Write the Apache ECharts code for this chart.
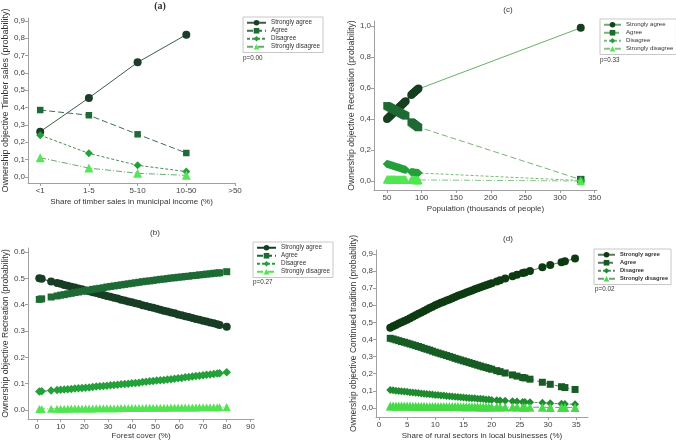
<!DOCTYPE html>
<html><head><meta charset="utf-8">
<script src="https://cdn.jsdelivr.net/npm/echarts@6/dist/echarts.min.js"></script>
<style>html,body{margin:0;padding:0;background:#fff}#c{width:676px;height:442px}</style>
</head><body><div id="c"></div>
<script>
const seriesNames = ['Strongly agree','Agree','Disagree','Strongly disagree'];

// ---- panel (a)
const catsA = ['<1','1-5','5-10','10-50','>50'];
const aSA = [0.26,0.455,0.66,0.82];
const aA  = [0.385,0.355,0.245,0.137];
const aD  = [0.24,0.135,0.066,0.03];
const aSD = [0.11,0.05,0.02,0.008];
const aYTicks = [0,0.1,0.2,0.3,0.4,0.5,0.6,0.7,0.8,0.9];

// ---- panel (b)
const bX = [1,2,6,8.5,10,11.5,13,14.5,16,17.5,19,20.5,22,23.5,25,26.5,28,29.5,31,32.5,34,35.5,37,38.5,40,41.5,43,44.5,46,47.5,49,50.5,52,53.5,55,56.5,58,59.5,61,62.5,64,65.5,67,68.5,70,71.5,73,74.5,76,77,80];
const bSA = [0.500,0.498,0.488,0.482,0.479,0.475,0.472,0.468,0.465,0.461,0.458,0.454,0.451,0.447,0.444,0.440,0.437,0.433,0.430,0.426,0.423,0.419,0.416,0.412,0.409,0.405,0.402,0.398,0.395,0.391,0.388,0.384,0.381,0.377,0.374,0.370,0.367,0.363,0.360,0.356,0.353,0.349,0.346,0.343,0.339,0.336,0.332,0.329,0.326,0.323,0.316];
const bA  = [0.420,0.422,0.429,0.433,0.436,0.438,0.441,0.443,0.446,0.448,0.451,0.453,0.455,0.458,0.460,0.462,0.464,0.467,0.469,0.471,0.473,0.475,0.477,0.479,0.481,0.483,0.485,0.487,0.489,0.490,0.492,0.494,0.496,0.497,0.499,0.501,0.502,0.504,0.505,0.507,0.508,0.510,0.511,0.513,0.514,0.516,0.517,0.519,0.520,0.521,0.525];
const bD  = [0.070,0.071,0.074,0.076,0.077,0.078,0.079,0.080,0.082,0.083,0.084,0.085,0.086,0.087,0.089,0.090,0.091,0.092,0.094,0.095,0.096,0.098,0.099,0.100,0.102,0.103,0.104,0.106,0.107,0.109,0.110,0.112,0.113,0.114,0.116,0.117,0.119,0.121,0.122,0.124,0.125,0.127,0.129,0.130,0.132,0.134,0.135,0.137,0.139,0.140,0.143];
const bSD = [0.004,0.004,0.005,0.005,0.005,0.005,0.005,0.006,0.006,0.006,0.006,0.006,0.006,0.006,0.007,0.007,0.007,0.007,0.007,0.007,0.007,0.008,0.008,0.008,0.008,0.008,0.008,0.008,0.009,0.009,0.009,0.009,0.009,0.009,0.009,0.010,0.010,0.010,0.010,0.010,0.010,0.010,0.010,0.011,0.011,0.011,0.011,0.011,0.011,0.011,0.012];
const bXTicks = [0,10,20,30,40,50,60,70,80,90];
const bYTicks = [0,0.1,0.2,0.3,0.4,0.5,0.6];

// ---- panel (c)
const cX = [50,51.5,53,54.5,56,57.5,59,60.5,62,63.5,65,66.5,68,69.5,71,72.5,74,75.5,77,85,86.5,88,89.5,91,92.5,94,95.5,330];
const cSA = [0.400,0.406,0.413,0.419,0.426,0.432,0.438,0.445,0.451,0.457,0.464,0.470,0.477,0.483,0.489,0.496,0.502,0.509,0.515,0.555,0.561,0.567,0.573,0.579,0.585,0.591,0.597,0.988];
const cA  = [0.485,0.481,0.478,0.474,0.471,0.467,0.463,0.460,0.456,0.452,0.449,0.445,0.442,0.438,0.434,0.431,0.427,0.424,0.420,0.380,0.375,0.370,0.365,0.360,0.355,0.350,0.345,0.009];
const cD  = [0.110,0.108,0.106,0.104,0.102,0.100,0.097,0.095,0.093,0.091,0.089,0.087,0.085,0.083,0.080,0.078,0.076,0.074,0.072,0.058,0.057,0.056,0.055,0.054,0.053,0.052,0.051,0.003];
const cSD = [0.012,0.012,0.012,0.011,0.011,0.011,0.011,0.011,0.010,0.010,0.010,0.010,0.010,0.010,0.009,0.009,0.009,0.009,0.009,0.008,0.008,0.008,0.008,0.007,0.007,0.007,0.007,0.000];
const cXTicks = [50,100,150,200,250,300,350];
const cYTicks = [0,0.2,0.4,0.6,0.8,1.0];

// ---- panel (d)
const dX = [2,2.5,3,3.5,4,4.5,5,5.5,6,6.5,7,7.5,8,8.5,9,9.5,10,10.5,11,11.5,12,12.5,13,13.5,14,14.5,15,15.5,16,16.5,17,17.5,18,18.5,19,19.5,20,20.9,21.5,22.4,23.7,24.5,25.5,25.9,26.8,29,30.4,32.4,33,34.8];
const dSA = [0.469,0.477,0.485,0.493,0.501,0.508,0.516,0.524,0.533,0.541,0.550,0.558,0.567,0.575,0.584,0.592,0.600,0.607,0.614,0.621,0.628,0.634,0.641,0.648,0.655,0.661,0.668,0.674,0.680,0.687,0.693,0.699,0.705,0.711,0.717,0.723,0.729,0.739,0.746,0.756,0.769,0.778,0.788,0.792,0.801,0.822,0.836,0.852,0.857,0.874];
const dA  = [0.407,0.403,0.398,0.393,0.388,0.384,0.379,0.374,0.369,0.364,0.359,0.354,0.348,0.343,0.338,0.332,0.326,0.321,0.316,0.311,0.306,0.301,0.296,0.290,0.285,0.280,0.275,0.270,0.265,0.260,0.255,0.250,0.245,0.240,0.236,0.231,0.226,0.218,0.212,0.204,0.193,0.186,0.178,0.175,0.168,0.150,0.138,0.124,0.119,0.108];
const dD  = [0.105,0.103,0.101,0.099,0.097,0.096,0.094,0.092,0.090,0.089,0.087,0.085,0.083,0.082,0.080,0.078,0.076,0.075,0.073,0.072,0.070,0.069,0.067,0.066,0.064,0.063,0.061,0.060,0.058,0.057,0.056,0.054,0.053,0.052,0.050,0.049,0.047,0.045,0.044,0.042,0.039,0.037,0.035,0.035,0.033,0.030,0.027,0.024,0.023,0.021];
const dSD = [0.012,0.012,0.012,0.011,0.011,0.011,0.011,0.011,0.010,0.010,0.010,0.010,0.010,0.009,0.009,0.009,0.009,0.009,0.009,0.008,0.008,0.008,0.008,0.008,0.008,0.007,0.007,0.007,0.007,0.007,0.007,0.007,0.006,0.006,0.006,0.006,0.006,0.006,0.005,0.005,0.005,0.005,0.004,0.004,0.004,0.004,0.003,0.003,0.003,0.003];
const dXTicks = [0,5,10,15,20,25,30,35];
const dYTicks = [0,0.1,0.2,0.3,0.4,0.5,0.6,0.7,0.8,0.9];

const pValues = ['p=0.00','p=0.27','p=0.33','p=0.02'];
const panelTitles = ['(a)','(b)','(c)','(d)'];

const FONT = 'Liberation Sans, Arial, sans-serif';
const comma = v => v.toFixed(1).replace('.', ',');
const dot = v => v.toFixed(1);

function pts(xs, ys) { return ys.map((v, i) => [xs[i], v]); }
const symbols = ['circle','rect','diamond','triangle'];
const dashes = ['solid',[6,3],[3,2],[6,2,1,2]];

function mkSeries(p, idx, xs, ys, color, lineColor, size) {
  return {
    type: 'line', name: seriesNames[idx] + ' #' + p,
    xAxisIndex: p, yAxisIndex: p,
    data: pts(xs, ys),
    symbol: symbols[idx], symbolSize: size,
    itemStyle: {color: color, borderWidth: 0},
    lineStyle: {color: lineColor, width: 1, type: dashes[idx]},
    emphasis: {disabled: true}, animation: false, z: 2 + idx
  };
}

const colA = ['#1b3d29','#1f6b37','#22a03a','#58e458'];
const lineA = ['#3d5c4a','#3f6e52','#4a8a5a','#6aaa72'];
const colB = ['#173d25','#1e6a35','#23a03a','#52e452'];
const colC = ['#173f1f','#1e6a34','#24a03a','#52e652'];
const lineC = ['#6aae6a','#74b474','#7aba7a','#86c486'];
const colD = ['#0e3a12','#175c24','#1e8c2e','#46da46'];
const lineD = ['#5a7a60','#5a7a60','#6a8a70','#7a9a80'];

const sizesA = [8,6.5,8,9];
const sizesB = [8,7,8.5,8];
const sizesC = [8,7.5,8.5,8.5];
const sizesD = [8,7,8,9];

const series = [];
[aSA,aA,aD,aSD].forEach((ys,i)=>series.push(mkSeries(0,i,catsA.slice(0,ys.length).map((c,k)=>k),ys,colA[i],lineA[i],sizesA[i])));
[bSA,bA,bD,bSD].forEach((ys,i)=>series.push(mkSeries(1,i,bX,ys,colB[i],colB[i],sizesB[i])));
[cSA,cA,cD,cSD].forEach((ys,i)=>series.push(mkSeries(2,i,cX,ys,colC[i],lineC[i],sizesC[i])));
[dSA,dA,dD,dSD].forEach((ys,i)=>series.push(mkSeries(3,i,dX,ys,colD[i],lineD[i],sizesD[i])));

const axisCommon = {
  axisLine: {show: true, onZero: false, lineStyle: {color: '#a0a0a0', width: 1}},
  axisTick: {show: true, length: 3, lineStyle: {color: '#a0a0a0'}},
  splitLine: {show: false},
  nameLocation: 'middle'
};
function xAx(p, min, max, ticks, fmt, name, gap) {
  return Object.assign({}, axisCommon, {
    gridIndex: p, type: 'value', min: min, max: max, name: name, nameGap: gap,
    nameTextStyle: {fontFamily: FONT, fontSize: 8, color: '#333'},
    axisTick: Object.assign({}, axisCommon.axisTick, {customValues: ticks}),
    axisLabel: {customValues: ticks, formatter: fmt, fontFamily: FONT, fontSize: 8, color: '#444', margin: 4}
  });
}
function yAx(p, min, max, ticks, fmt, name, gap, nfs) {
  return Object.assign({}, axisCommon, {
    gridIndex: p, type: 'value', min: min, max: max, name: name, nameGap: gap,
    nameTextStyle: {fontFamily: FONT, fontSize: nfs, color: '#333'},
    axisTick: Object.assign({}, axisCommon.axisTick, {customValues: ticks}),
    axisLabel: {customValues: ticks, formatter: fmt, fontFamily: FONT, fontSize: 8, color: '#444', margin: 3}
  });
}

const aXTicks = catsA.map((c,k)=>k);
const xAxis = [
  xAx(0, -0.25, 4, aXTicks, v => catsA[Math.round(v)], 'Share of timber sales in municipal income (%)', 15),
  xAx(1, -3.75, 91.5, bXTicks, v => String(v), 'Forest cover (%)', 13),
  xAx(2, 31.2, 353.5, cXTicks, v => String(v), 'Population (thousands of people)', 15),
  xAx(3, -0.53, 37.1, dXTicks, v => String(v), 'Share of rural sectors in local businesses (%)', 15)
];
const yAxis = [
  yAx(0, -0.036, 0.916, aYTicks, comma, 'Ownership objective Timber sales (probability)', 17, 9),
  yAx(1, -0.034, 0.615, bYTicks, dot, 'Ownership objective Recreation (probability)', 17, 8.6),
  yAx(2, -0.058, 1.032, cYTicks, comma, 'Ownership objective Recreation (probability)', 17, 8.7),
  yAx(3, -0.053, 0.923, dYTicks, comma, 'Ownership objective Continued tradition (probability)', 18, 8.5)
];
const grid = [
  {left: 27, top: 18, width: 208, height: 165},
  {left: 26, top: 248, width: 228, height: 171},
  {left: 374, top: 21, width: 223, height: 169},
  {left: 376, top: 250, width: 212, height: 167}
];

function mkLegend(p, left, top, bold, fs, iw) {
  return {
    show: true, orient: 'vertical', left: left, top: top,
    data: seriesNames.map(n => n + ' #' + p),
    formatter: n => n.replace(/ #\d$/, ''),
    itemWidth: iw, itemHeight: 7, itemGap: 0.5,
    padding: [2, 3, 2, 3],
    borderColor: '#c8c8c8', borderWidth: 1,
    textStyle: {fontFamily: FONT, fontSize: fs, color: '#333', fontWeight: bold ? 'bold' : 'normal', lineHeight: 7.5},
    selectedMode: false
  };
}
const legend = [
  mkLegend(0, 243, 17, false, 6.3, 19),
  mkLegend(1, 253, 242, false, 6.3, 19),
  mkLegend(2, 600, 19, false, 6.1, 17),
  mkLegend(3, 594, 249, true, 5.7, 17)
];

function txt(x, y, s, font, align) {
  return {type: 'text', x: x, y: y, style: {text: s, font: font, fill: '#333', align: align || 'left', verticalAlign: 'middle'}};
}
const graphic = [
  txt(160, 6, panelTitles[0], 'bold 10px "Liberation Serif", serif', 'center'),
  txt(155, 233, panelTitles[1], '8px ' + FONT, 'center'),
  txt(508, 10, panelTitles[2], '8px ' + FONT, 'center'),
  txt(508, 239, panelTitles[3], '8px ' + FONT, 'center'),
  txt(243, 58, pValues[0], '6.3px ' + FONT),
  txt(253, 282, pValues[1], '6.3px ' + FONT),
  txt(600, 60, pValues[2], '6.3px ' + FONT),
  txt(595, 289, pValues[3], '6.3px ' + FONT)
];

const chart = echarts.init(document.getElementById('c'), null, {renderer: 'canvas'});
chart.setOption({
  backgroundColor: '#fff', animation: false,
  grid: grid, xAxis: xAxis, yAxis: yAxis, legend: legend, graphic: graphic, series: series
});
</script></body></html>
